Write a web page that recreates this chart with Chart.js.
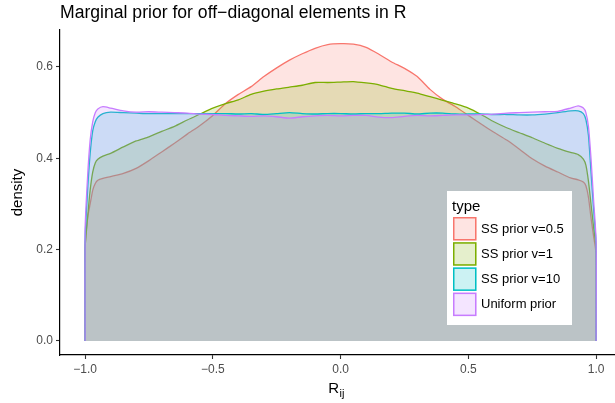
<!DOCTYPE html>
<html>
<head>
<meta charset="utf-8">
<script src="https://cdn.jsdelivr.net/npm/chart.js@4.4.0/dist/chart.umd.min.js"></script>
<style>
    body { margin: 0; background: #ffffff; }
    #wrap { width: 615px; height: 403px; position: relative; }
</style>
</head>
<body>
<div id="wrap"><canvas id="densityChart"></canvas></div>
<script>
// R_ij grid (first/last repeated so each polygon closes at zero)
const xs = [-1, -1, -0.99, -0.98, -0.97, -0.96, -0.95, -0.93, -0.9, -0.85, -0.8, -0.75, -0.7, -0.65, -0.6, -0.55, -0.5,
    -0.45, -0.4, -0.35, -0.3, -0.25, -0.2, -0.15, -0.1, -0.05, 0, 0.05, 0.1, 0.15, 0.2, 0.25, 0.3, 0.35, 0.4, 0.45, 0.5,
    0.55, 0.6, 0.65, 0.7, 0.75, 0.8, 0.85, 0.9, 0.93, 0.95, 0.96, 0.97, 0.98, 0.99, 1, 1];

const ss05 = [0, 0.20, 0.27, 0.30, 0.33, 0.345, 0.352, 0.356, 0.36, 0.367, 0.378, 0.395, 0.414, 0.433, 0.453, 0.472, 0.494,
    0.52, 0.54, 0.557, 0.579, 0.598, 0.615, 0.629, 0.641, 0.649, 0.651, 0.65, 0.643, 0.628, 0.611, 0.597, 0.579, 0.551, 0.529, 0.513, 0.494,
    0.475, 0.457, 0.44, 0.42, 0.399, 0.383, 0.37, 0.357, 0.353, 0.348, 0.34, 0.315, 0.27, 0.23, 0.19, 0];

const ss1 = [0, 0.20, 0.27, 0.33, 0.37, 0.39, 0.398, 0.405, 0.411, 0.425, 0.438, 0.447, 0.459, 0.47, 0.484, 0.497, 0.51,
    0.52, 0.528, 0.54, 0.547, 0.552, 0.556, 0.56, 0.566, 0.566, 0.567, 0.568, 0.565, 0.561, 0.553, 0.548, 0.543, 0.535, 0.527, 0.519, 0.51,
    0.496, 0.48, 0.467, 0.456, 0.445, 0.433, 0.422, 0.413, 0.408, 0.398, 0.385, 0.35, 0.30, 0.25, 0.20, 0];

const ss10 = [0, 0.22, 0.33, 0.41, 0.46, 0.48, 0.49, 0.498, 0.501, 0.5, 0.499, 0.498, 0.498, 0.498, 0.498, 0.498, 0.498,
    0.498, 0.497, 0.498, 0.496, 0.498, 0.5, 0.498, 0.497, 0.498, 0.498, 0.497, 0.498, 0.498, 0.499, 0.499, 0.497, 0.499, 0.499, 0.497, 0.497,
    0.497, 0.496, 0.496, 0.495, 0.495, 0.497, 0.5, 0.504, 0.504, 0.498, 0.485, 0.45, 0.37, 0.29, 0.21, 0];

const uniform = [0, 0.24, 0.36, 0.44, 0.48, 0.50, 0.508, 0.513, 0.51, 0.504, 0.501, 0.502, 0.501, 0.5, 0.499, 0.497, 0.496,
    0.494, 0.493, 0.492, 0.493, 0.491, 0.488, 0.491, 0.493, 0.494, 0.493, 0.494, 0.494, 0.49, 0.489, 0.492, 0.494, 0.493, 0.494, 0.495, 0.495,
    0.496, 0.497, 0.499, 0.5, 0.501, 0.502, 0.503, 0.51, 0.515, 0.51, 0.5, 0.47, 0.40, 0.31, 0.22, 0];

const seriesNames = ['SS prior v=0.5', 'SS prior v=1', 'SS prior v=10', 'Uniform prior'];
const seriesColors = ['#F8766D', '#7CAE00', '#00BFC4', '#C77CFF'];
const xTicks = [-1, -0.5, 0, 0.5, 1];
const yTicks = [0, 0.2, 0.4, 0.6];

const FONT = "'Liberation Sans', Arial, sans-serif";

function hexAlpha(hex, a) {
    const n = parseInt(hex.slice(1), 16);
    return 'rgba(' + (n >> 16) + ',' + ((n >> 8) & 255) + ',' + (n & 255) + ',' + a + ')';
}

function fmt(v) {
    const s = Math.abs(v).toFixed(1);
    return v < 0 ? '\u2212' + s : s;
}

const series = [ss05, ss1, ss10, uniform];
const datasets = series.map((ys, i) => ({
    label: seriesNames[i],
    data: xs.map((x, j) => ({ x: x, y: ys[j] })),
    borderColor: seriesColors[i],
    backgroundColor: hexAlpha(seriesColors[i], 0.2),
    borderWidth: 1.3,
    pointRadius: 0,
    tension: 0.2,
    fill: 'origin',
    order: series.length - i
}));

// title, axis titles and the ggplot-style legend box
const decorations = {
    id: 'decorations',
    afterDraw(chart) {
        const ctx = chart.ctx;
        const area = chart.chartArea;
        ctx.save();
        ctx.fillStyle = '#000000';
        ctx.textBaseline = 'alphabetic';
        ctx.textAlign = 'left';
        ctx.font = '17.6px ' + FONT;
        ctx.fillText('Marginal prior for off\u2212diagonal elements in R', 60, 18);

        // x title R_ij
        ctx.font = '15px ' + FONT;
        const rW = ctx.measureText('R').width;
        ctx.font = '11px ' + FONT;
        const subW = ctx.measureText('ij').width;
        const cx = (area.left + area.right) / 2 - 1;
        const startX = cx - (rW + subW) / 2;
        ctx.font = '15px ' + FONT;
        ctx.fillText('R', startX, 393);
        ctx.font = '11px ' + FONT;
        ctx.fillText('ij', startX + rW + 0.5, 397);

        // y title
        ctx.save();
        ctx.translate(18, (area.top + area.bottom) / 2);
        ctx.rotate(-Math.PI / 2);
        ctx.textAlign = 'center';
        ctx.textBaseline = 'middle';
        ctx.font = '15px ' + FONT;
        ctx.fillText('density', 0, 0);
        ctx.restore();

        // legend
        const lx = 447, ly = 191, lw = 125, lh = 134;
        ctx.fillStyle = '#ffffff';
        ctx.fillRect(lx, ly, lw, lh);
        ctx.fillStyle = '#000000';
        ctx.font = '15px ' + FONT;
        ctx.fillText('type', 452, 211);
        const keyTop = 217, keyStep = 25.2, keySize = 23.5;
        seriesNames.forEach((name, i) => {
            const ky = keyTop + i * keyStep;
            ctx.fillStyle = hexAlpha(seriesColors[i], 0.2);
            ctx.fillRect(453, ky, keySize, keySize);
            ctx.strokeStyle = seriesColors[i];
            ctx.lineWidth = 1.5;
            ctx.strokeRect(453.75, ky + 0.75, keySize - 1.5, keySize - 1.5);
            ctx.fillStyle = '#000000';
            ctx.font = '13px ' + FONT;
            ctx.textBaseline = 'middle';
            ctx.fillText(name, 481, ky + keySize / 2 + 0.5);
            ctx.textBaseline = 'alphabetic';
        });
        ctx.restore();
    }
};

document.addEventListener('DOMContentLoaded', function () {
    const canvas = document.getElementById('densityChart');
    new Chart(canvas.getContext('2d'), {
        type: 'line',
        data: { datasets: datasets },
        options: {
            responsive: true,
            maintainAspectRatio: false,
            animation: false,
            layout: { padding: { top: 30, right: 1, left: 0, bottom: 0 } },
            scales: {
                x: {
                    type: 'linear',
                    min: -1.098,
                    max: 1.07,
                    afterFit: scale => { scale.height = 48; },
                    afterBuildTicks: scale => { scale.ticks = xTicks.map(v => ({ value: v })); },
                    border: { display: true, color: '#000000', width: 1.2 },
                    grid: { drawOnChartArea: false, drawTicks: true, tickLength: 4, tickColor: '#333333', tickWidth: 1.1 },
                    ticks: {
                        color: '#4D4D4D',
                        font: { family: FONT, size: 12 },
                        padding: 3,
                        maxRotation: 0,
                        callback: v => fmt(v)
                    }
                },
                y: {
                    type: 'linear',
                    min: -0.0307,
                    max: 0.681,
                    afterFit: scale => { scale.width = 60; },
                    afterBuildTicks: scale => { scale.ticks = yTicks.map(v => ({ value: v })); },
                    border: { display: true, color: '#000000', width: 1.2 },
                    grid: { drawOnChartArea: false, drawTicks: true, tickLength: 4, tickColor: '#333333', tickWidth: 1.1 },
                    ticks: {
                        color: '#4D4D4D',
                        font: { family: FONT, size: 12 },
                        padding: 3,
                        callback: v => fmt(v)
                    }
                }
            },
            plugins: {
                legend: { display: false },
                tooltip: { enabled: false }
            }
        },
        plugins: [decorations]
    });
});
</script>
</body>
</html>
